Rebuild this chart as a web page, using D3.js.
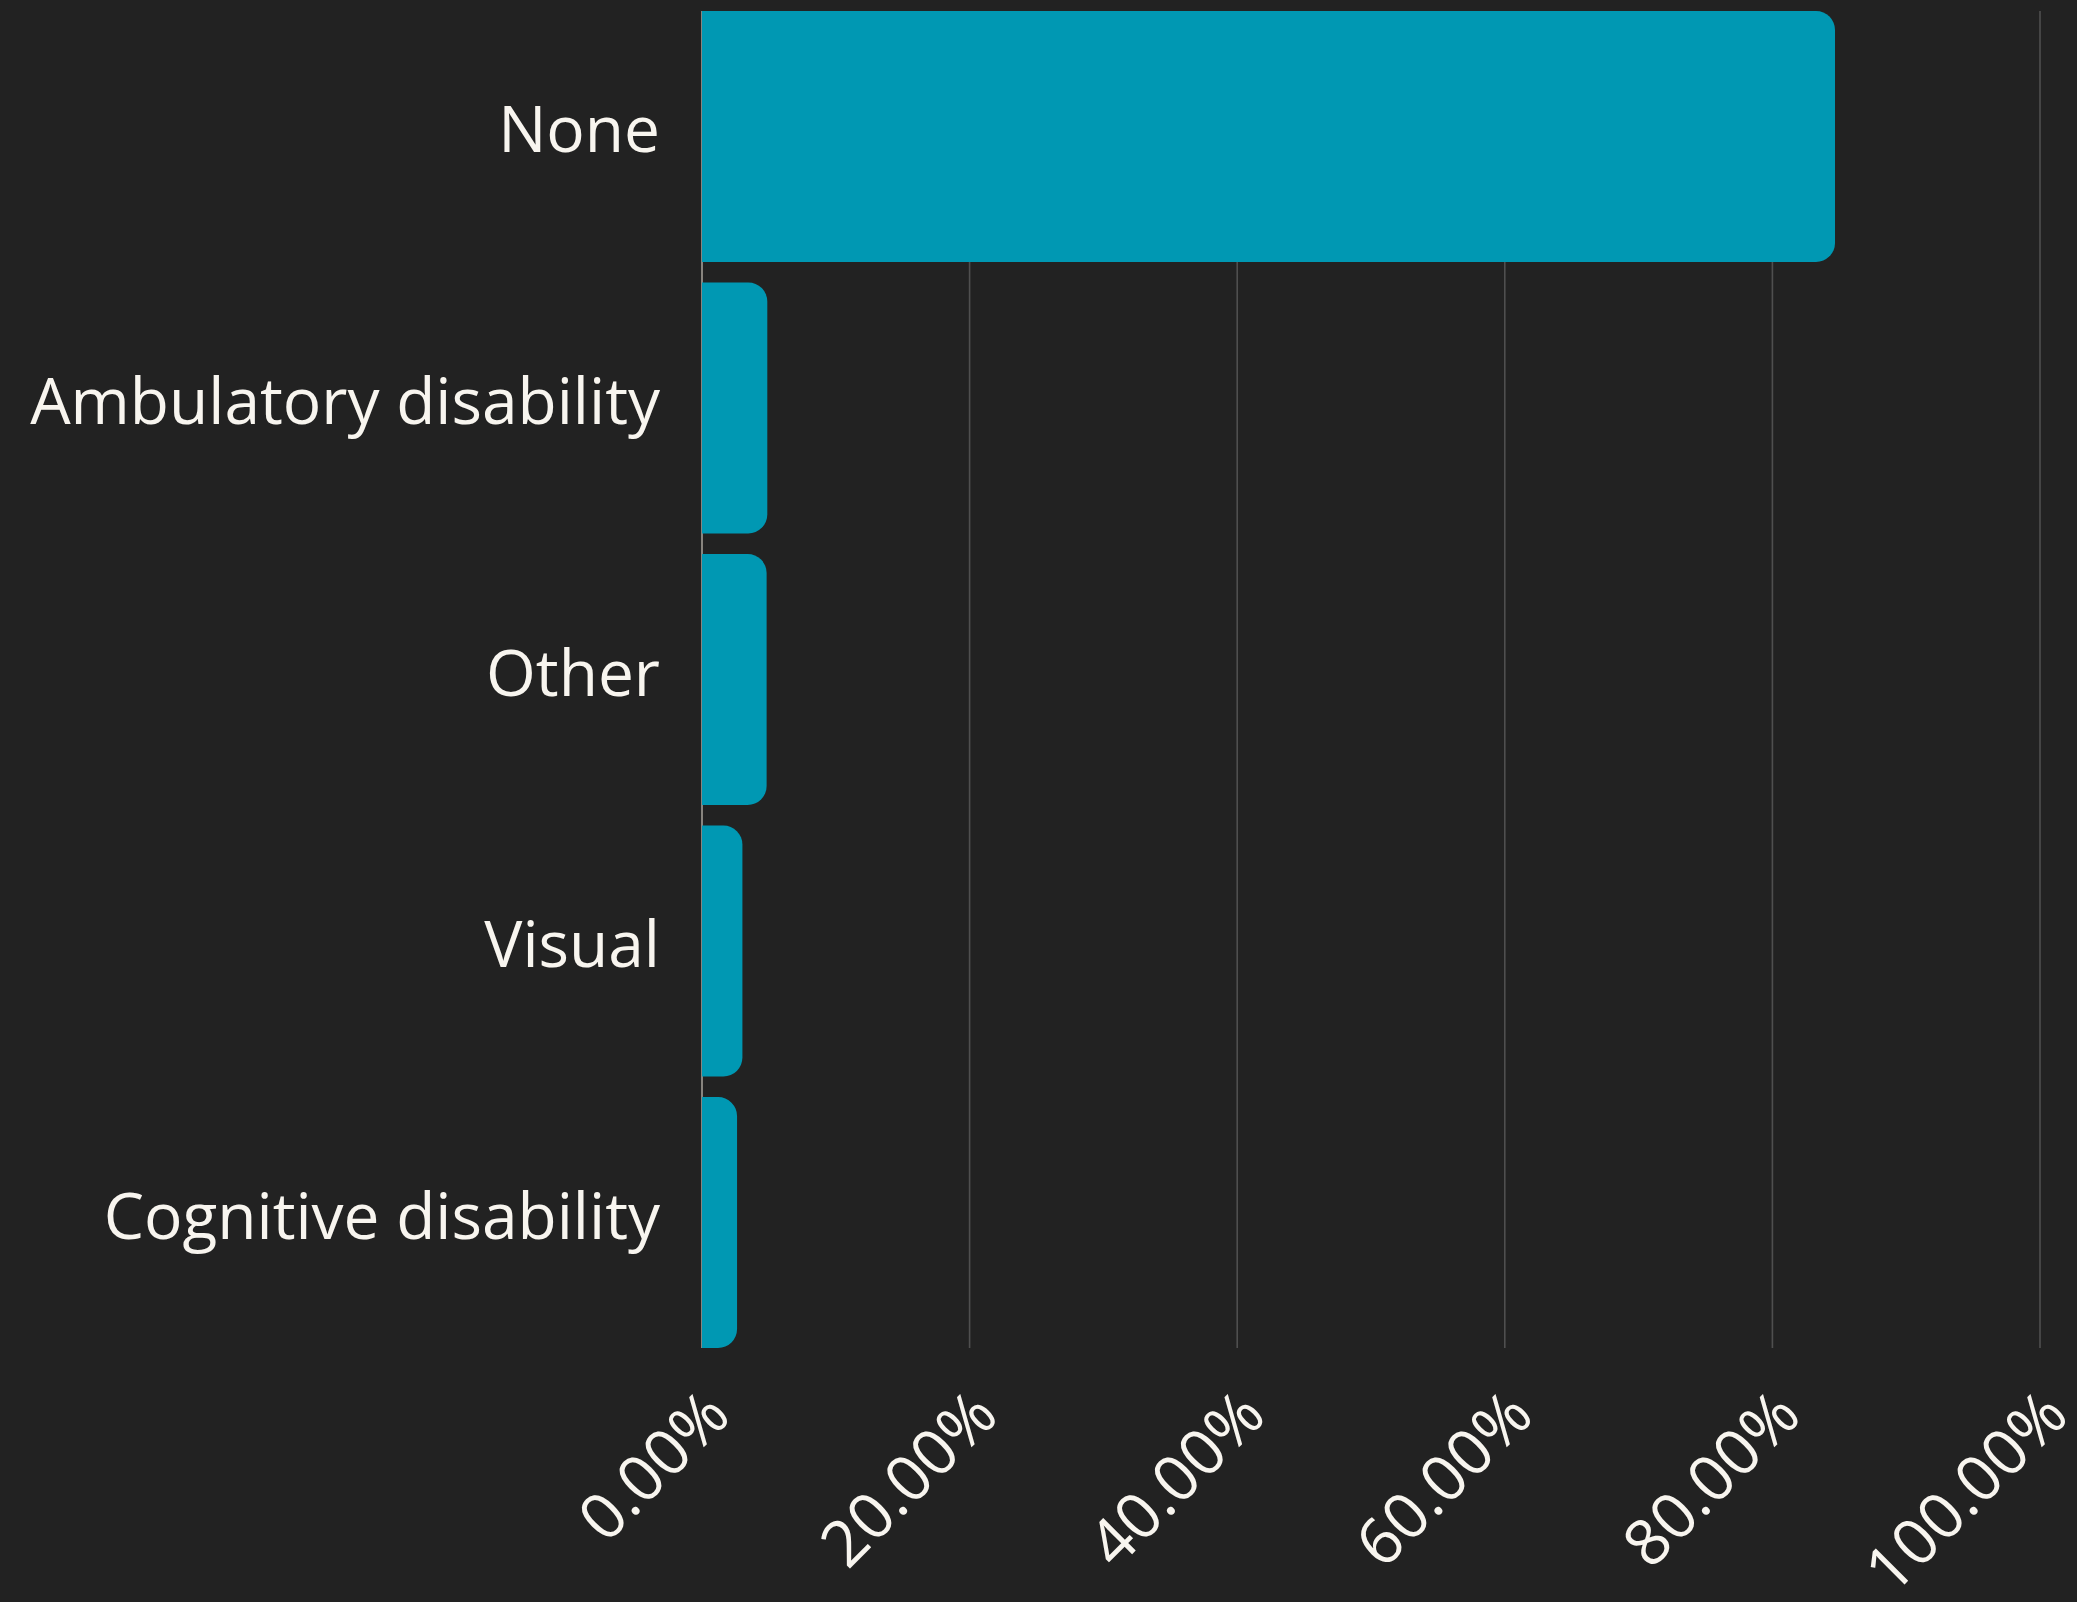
<!DOCTYPE html>
<html>
<head>
<meta charset="utf-8">
<script src="https://cdn.jsdelivr.net/npm/d3@7"></script>
<style>
  html, body { margin: 0; padding: 0; background: #222222; }
  svg { display: block; }
  text { font-family: "Open Sans", "Noto Sans", sans-serif; fill: #f8f5ef; }
</style>
</head>
<body>
<svg id="chart"></svg>
<script>
// Share of respondents by disability type
const categories = ["None", "Ambulatory disability", "Other", "Visual", "Cognitive disability"];
const shares = [84.68, 4.88, 4.83, 3.02, 2.62];
const tickValues = [0, 20, 40, 60, 80, 100];
const tickLabels = ["0.00%", "20.00%", "40.00%", "60.00%", "80.00%", "100.00%"];

const W = 2077, H = 1602;
const plot = { left: 702, right: 2040, top: 11, bottom: 1348 };

const svg = d3.select("#chart").attr("width", W).attr("height", H);
svg.append("rect").attr("width", W).attr("height", H).attr("fill", "#222222");

const x = d3.scaleLinear().domain([0, 100]).range([plot.left, plot.right]);
const y = d3.scaleBand().domain(categories).range([plot.top, plot.bottom])
  .paddingInner(0.076).paddingOuter(0);

// vertical gridlines
svg.append("g").selectAll("line")
  .data(tickValues.filter(t => t > 0))
  .join("line")
  .attr("x1", d => x(d)).attr("x2", d => x(d))
  .attr("y1", plot.top).attr("y2", plot.bottom)
  .attr("stroke", "#4f4f4f").attr("stroke-width", 1.6);

// baseline axis
svg.append("line")
  .attr("x1", x(0)).attr("x2", x(0))
  .attr("y1", plot.top).attr("y2", plot.bottom)
  .attr("stroke", "#a39e96").attr("stroke-width", 1.6);

// bars with rounded right end
function rightRounded(x0, y0, w, h, r) {
  r = Math.min(r, w, h / 2);
  return `M${x0},${y0}` +
    `H${x0 + w - r}` +
    `A${r},${r} 0 0 1 ${x0 + w},${y0 + r}` +
    `V${y0 + h - r}` +
    `A${r},${r} 0 0 1 ${x0 + w - r},${y0 + h}` +
    `H${x0}Z`;
}

const rows = categories.map((c, i) => ({ c, v: shares[i] }));

svg.append("g").selectAll("path")
  .data(rows)
  .join("path")
  .attr("d", d => rightRounded(x(0), y(d.c), x(d.v) - x(0), y.bandwidth(), 19))
  .attr("fill", "#0098b3");

// category labels
svg.append("g").selectAll("text")
  .data(rows)
  .join("text")
  .attr("x", 660)
  .attr("y", d => y(d.c) + y.bandwidth() / 2)
  .attr("dy", "0.25em")
  .attr("text-anchor", "end")
  .attr("font-size", 64)
  .text(d => d.c);

// rotated tick labels
svg.append("g").selectAll("text")
  .data(tickValues)
  .join("text")
  .attr("transform", (d) => `translate(${x(d) + 31},1418) rotate(-45)`)
  .attr("text-anchor", "end")
  .attr("font-size", 64)
  .text((d, i) => tickLabels[i]);
</script>
</body>
</html>
